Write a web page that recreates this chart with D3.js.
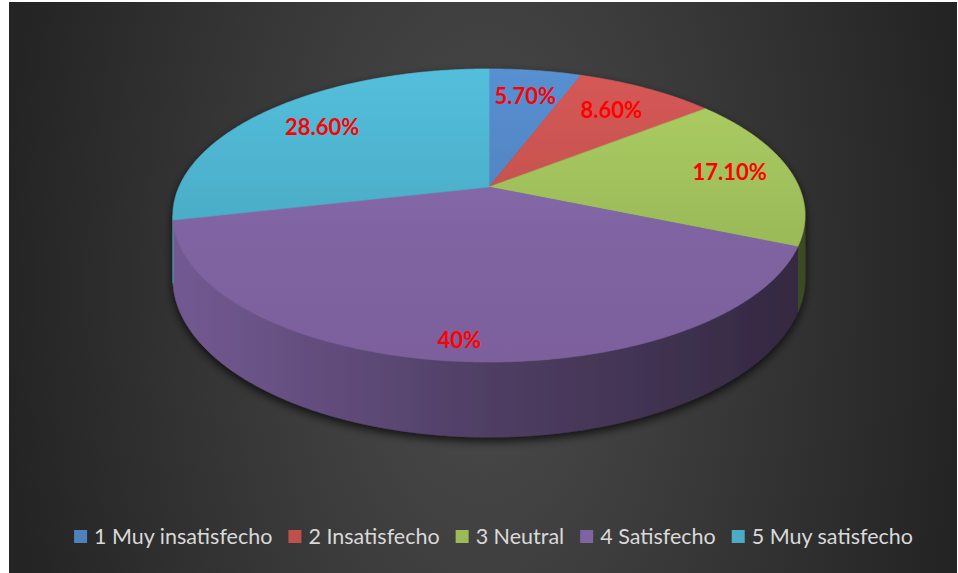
<!DOCTYPE html>
<html>
<head>
<meta charset="utf-8">
<script src="https://cdn.jsdelivr.net/npm/d3@7"></script>
<style>
  html, body { margin: 0; padding: 0; background: #fff; }
  svg { display: block; }
</style>
</head>
<body>
<div id="chart"></div>
<script>
// data
const categories = ['1 Muy insatisfecho', '2 Insatisfecho', '3 Neutral', '4 Satisfecho', '5 Muy satisfecho'];
const values = [5.7, 8.6, 17.1, 40, 28.6];
const valueLabels = ['5.70%', '8.60%', '17.10%', '40%', '28.60%'];
const colors = ['#4f81bd', '#c0504d', '#9bbb59', '#8064a2', '#4bacc6'];

const width = 958, height = 573;

// perspective disk: centre of pie, half width, half height, perspective factor, thickness
const cx = 489, cy = 187, KX = 310, KY = 141, E = 0.1945, H = 60.4;

function proj(a, r, depth) {
  const u = r * Math.sin(a), v = r * Math.cos(a);
  const d = 1 + v * E;
  return [cx + u * KX / d, cy - v * KY / d + depth * H / d];
}

const svg = d3.select('#chart').append('svg')
  .attr('width', width)
  .attr('height', height);

const defs = svg.append('defs');

// background
const bg = defs.append('radialGradient')
  .attr('id', 'bg')
  .attr('gradientUnits', 'userSpaceOnUse')
  .attr('cx', 483).attr('cy', 287).attr('r', 480)
  .attr('gradientTransform', 'translate(483,287) scale(1,1.9) translate(-483,-287)');
bg.append('stop').attr('offset', 0).attr('stop-color', '#4c4c4c');
bg.append('stop').attr('offset', 1).attr('stop-color', '#242424');

svg.append('rect')
  .attr('x', 9).attr('y', 2)
  .attr('width', 948).attr('height', 571)
  .attr('fill', 'url(#bg)');

const shadow = defs.append('filter')
  .attr('id', 'shadow')
  .attr('x', '-10%').attr('y', '-10%')
  .attr('width', '120%').attr('height', '130%');
shadow.append('feDropShadow')
  .attr('dx', 0).attr('dy', 4)
  .attr('stdDeviation', 5)
  .attr('flood-color', '#000')
  .attr('flood-opacity', 0.75);

const pie = d3.pie().sort(null).value(d => d)(values);

// gradients for top faces and walls
colors.forEach((c, i) => {
  const g = defs.append('linearGradient')
    .attr('id', 'top' + i)
    .attr('gradientUnits', 'userSpaceOnUse')
    .attr('x1', 0).attr('y1', cy - KY / (1 + E))
    .attr('x2', 0).attr('y2', cy + KY / (1 - E));
  g.append('stop').attr('offset', 0).attr('stop-color', d3.color(c).brighter(0.3));
  g.append('stop').attr('offset', 0.55).attr('stop-color', d3.color(c));
  g.append('stop').attr('offset', 1).attr('stop-color', d3.color(c).darker(0.1));

  const w = defs.append('linearGradient')
    .attr('id', 'wall' + i)
    .attr('gradientUnits', 'userSpaceOnUse')
    .attr('x1', cx - 316).attr('y1', 0)
    .attr('x2', cx + 316).attr('y2', 0);
  w.append('stop').attr('offset', 0).attr('stop-color', d3.color(c).darker(0.3));
  w.append('stop').attr('offset', 0.5).attr('stop-color', d3.color(c).darker(1.35));
  w.append('stop').attr('offset', 1).attr('stop-color', d3.color(c).darker(2.6));
});

const pieG = svg.append('g').attr('filter', 'url(#shadow)');

// front wall only shows between the two silhouette angles
const wallFrom = Math.PI - Math.acos(E);
const wallTo = Math.PI + Math.acos(E);
const step = Math.PI / 360;

function arcPoints(a0, a1, r, depth) {
  const n = Math.max(2, Math.ceil((a1 - a0) / step));
  return d3.range(n + 1).map(k => proj(a0 + (a1 - a0) * k / n, r, depth));
}

const line = d3.line();

pie.forEach((s, i) => {
  const a0 = Math.max(s.startAngle, wallFrom);
  const a1 = Math.min(s.endAngle, wallTo);
  if (a1 <= a0) return;
  const topEdge = arcPoints(a0, a1, 1, 0);
  const bottomEdge = arcPoints(a0, a1, 1, 1).reverse();
  pieG.append('path')
    .attr('d', line(topEdge.concat(bottomEdge)) + 'Z')
    .attr('fill', `url(#wall${i})`)
    .attr('stroke', `url(#wall${i})`)
    .attr('stroke-width', 0.6);
});

pie.forEach((s, i) => {
  const pts = [proj(0, 0, 0)].concat(arcPoints(s.startAngle, s.endAngle, 1, 0));
  pieG.append('path')
    .attr('d', line(pts) + 'Z')
    .attr('fill', `url(#top${i})`)
    .attr('stroke', `url(#top${i})`)
    .attr('stroke-width', 0.6);
});

// data labels
const labelR = [0.75, 0.75, 0.8, 0.9, 0.75];
pie.forEach((s, i) => {
  const p = proj((s.startAngle + s.endAngle) / 2, labelR[i], 0);
  svg.append('text')
    .attr('x', p[0]).attr('y', p[1])
    .attr('dy', '0.36em')
    .attr('text-anchor', 'middle')
    .attr('font-family', 'Lato, "Open Sans", sans-serif')
    .attr('font-weight', 'bold')
    .attr('font-size', 22)
    .attr('fill', '#ff0000')
    .text(valueLabels[i]);
});

// legend
const legend = svg.append('g');
const items = legend.selectAll('g').data(categories).join('g');
items.append('rect')
  .attr('width', 13).attr('height', 13)
  .attr('y', -14)
  .attr('fill', (d, i) => colors[i]);
items.append('text')
  .attr('x', 20)
  .attr('font-family', 'Lato, "Open Sans", sans-serif')
  .attr('font-size', 21.5)
  .attr('fill', '#d9d9d9')
  .text(d => d);

let xPos = 0;
items.each(function () {
  const w = d3.select(this).select('text').node().getComputedTextLength();
  d3.select(this).attr('transform', `translate(${xPos},0)`);
  xPos += 20 + w + 16;
});
const total = xPos - 16;
legend.attr('transform', `translate(${(72 + 915) / 2 - total / 2},544)`);
</script>
</body>
</html>
